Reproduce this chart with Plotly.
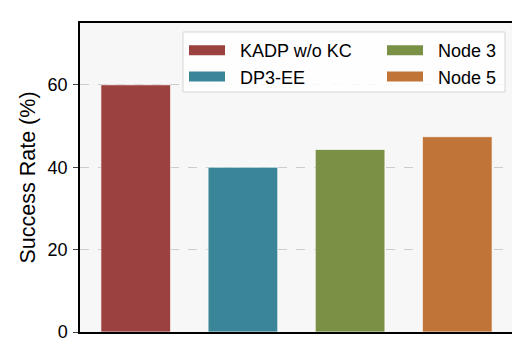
import plotly.graph_objects as go

methods = ["KADP w/o KC", "DP3-EE", "Node 3", "Node 5"]
success = [60.0, 40.0, 44.3, 47.4]
colors = ["#9b4140", "#3a8597", "#7a9145", "#c07437"]
legend_col = ["legend", "legend", "legend2", "legend2"]

# plot area in px: x 72..505, y 15..324
def px_x(v):
    return (v - 72) / 433

def px_y(v):
    return (324 - v) / 309

fig = go.Figure()
for m, v, c, lg in zip(methods, success, colors, legend_col):
    fig.add_trace(go.Bar(x=[m], y=[v], width=0.65, showlegend=False,
                         marker=dict(color=c, line=dict(color="rgba(255,255,255,0.7)", width=1))))
    # wide legend patch like the original, nbsp gives the gap before the label
    fig.add_trace(go.Scatter(x=[None], y=[None], mode="lines", name="\u00a0\u00a0" + m, legend=lg,
                             line=dict(color=c, width=10)))

leg = dict(orientation="v", yanchor="top", xanchor="left", itemwidth=36,
           font=dict(size=18), bgcolor="rgba(0,0,0,0)", borderwidth=0, tracegroupgap=0)
fig.update_layout(
    width=520, height=350, barmode="overlay",
    margin=dict(l=72, r=15, t=15, b=26),
    paper_bgcolor="white", plot_bgcolor="#f7f7f7",
    font=dict(family="Arial, Liberation Sans, sans-serif", size=18, color="black"),
    legend=dict(leg, x=px_x(176), y=px_y(24)),
    legend2=dict(leg, x=px_x(374), y=px_y(24)),
    shapes=[dict(type="rect", xref="paper", yref="paper", layer="above",
                 x0=px_x(175), x1=px_x(497), y0=px_y(84), y1=px_y(24),
                 fillcolor="rgba(255,255,255,0.85)", line=dict(color="#d6d6d6", width=1))],
)
fig.update_xaxes(range=[-0.52, 3.52], showticklabels=False, ticks="", showgrid=False,
                 showline=True, linecolor="black", linewidth=1.5, mirror=True)
fig.update_yaxes(range=[0, 75], tickvals=[0, 20, 40, 60], ticks="outside", ticklen=5,
                 showline=True, linecolor="black", linewidth=1.5, mirror=True,
                 showgrid=True, gridcolor="#cccccc", griddash="dash", gridwidth=1,
                 zeroline=False, title=dict(text="Success Rate (%)", font=dict(size=21.5), standoff=6),
                 tickfont=dict(size=18), ticklabelstandoff=2)
fig.write_html("out.html")
